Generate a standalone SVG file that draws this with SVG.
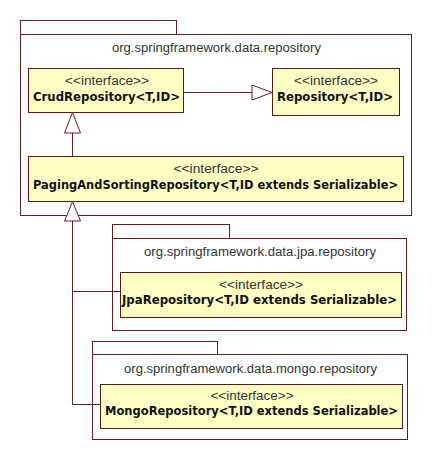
<svg xmlns="http://www.w3.org/2000/svg" width="432" height="460" viewBox="0 0 432 460">
<defs>
<style>
.pkg{fill:#ffffff;stroke:#6a1c1c;stroke-width:1}
.box{fill:#ffffc4;stroke:#5a1a1a;stroke-width:1}
.edge{fill:none;stroke:#6a1c1c;stroke-width:1}
.tri{fill:#ffffff;stroke:#6a1c1c;stroke-width:1}
text{font-family:"Liberation Sans",Arial,sans-serif;font-size:12px;fill:#222222;text-anchor:middle}
.ster{fill:#333333}
.name{font-family:"DejaVu Sans","Liberation Sans",sans-serif;font-size:11.5px;font-weight:bold;fill:#111111}
.ptitle{fill:#333333}
</style>
</defs>
<rect width="432" height="460" fill="#ffffff"/>
<g id="pkg-repository">
<rect class="pkg" x="20.5" y="20.5" width="156" height="14"/>
<rect class="pkg" x="20.5" y="34.5" width="391" height="181"/>
<text class="ptitle" x="216.5" y="52" textLength="209" lengthAdjust="spacingAndGlyphs">org.springframework.data.repository</text>
</g>
<g id="pkg-jpa">
<rect class="pkg" x="112.5" y="224.5" width="117" height="14"/>
<rect class="pkg" x="112.5" y="238.5" width="294" height="92"/>
<text class="ptitle" x="260" y="256" textLength="232" lengthAdjust="spacingAndGlyphs">org.springframework.data.jpa.repository</text>
</g>
<g id="pkg-mongo">
<rect class="pkg" x="92.5" y="341.5" width="125" height="13"/>
<rect class="pkg" x="92.5" y="354.5" width="315" height="85"/>
<text class="ptitle" x="250.5" y="373" textLength="253" lengthAdjust="spacingAndGlyphs">org.springframework.data.mongo.repository</text>
</g>
<g id="CrudRepository">
<rect class="box" x="28.5" y="68.5" width="155" height="44"/>
<text class="ster" x="107" y="85" textLength="84" lengthAdjust="spacingAndGlyphs">&lt;&lt;interface&gt;&gt;</text>
<text class="name" x="106.5" y="101" textLength="147" lengthAdjust="spacingAndGlyphs">CrudRepository&lt;T,ID&gt;</text>
</g>
<g id="Repository">
<rect class="box" x="272.5" y="68.5" width="127" height="47"/>
<text class="ster" x="336" y="85" textLength="84" lengthAdjust="spacingAndGlyphs">&lt;&lt;interface&gt;&gt;</text>
<text class="name" x="335" y="101" textLength="116" lengthAdjust="spacingAndGlyphs">Repository&lt;T,ID&gt;</text>
</g>
<g id="PagingAndSortingRepository">
<rect class="box" x="28.5" y="156.5" width="375" height="45"/>
<text class="ster" x="216" y="173" textLength="85" lengthAdjust="spacingAndGlyphs">&lt;&lt;interface&gt;&gt;</text>
<text class="name" x="215.5" y="189" textLength="365" lengthAdjust="spacingAndGlyphs">PagingAndSortingRepository&lt;T,ID extends Serializable&gt;</text>
</g>
<g id="JpaRepository">
<rect class="box" x="120.5" y="272.5" width="281" height="45"/>
<text class="ster" x="261" y="289" textLength="84" lengthAdjust="spacingAndGlyphs">&lt;&lt;interface&gt;&gt;</text>
<text class="name" x="259.5" y="304" textLength="275" lengthAdjust="spacingAndGlyphs">JpaRepository&lt;T,ID extends Serializable&gt;</text>
</g>
<g id="MongoRepository">
<rect class="box" x="100.5" y="384.5" width="302" height="44"/>
<text class="ster" x="252" y="400" textLength="83" lengthAdjust="spacingAndGlyphs">&lt;&lt;interface&gt;&gt;</text>
<text class="name" x="251.5" y="415" textLength="293" lengthAdjust="spacingAndGlyphs">MongoRepository&lt;T,ID extends Serializable&gt;</text>
</g>
<g id="connectors">
<path class="edge" d="M183.5 92.5 H252"/>
<polygon class="tri" points="252,85 272,92.5 252,100"/>
<path class="edge" d="M72.5 133 V156.5"/>
<polygon class="tri" points="72.5,112.5 64.5,133 80.5,133"/>
<path class="edge" d="M72.5 221 V404.5 H100.5"/>
<path class="edge" d="M72.5 291.5 H120.5"/>
<polygon class="tri" points="72.5,201.5 64.5,221 80.5,221"/>
</g>
</svg>
